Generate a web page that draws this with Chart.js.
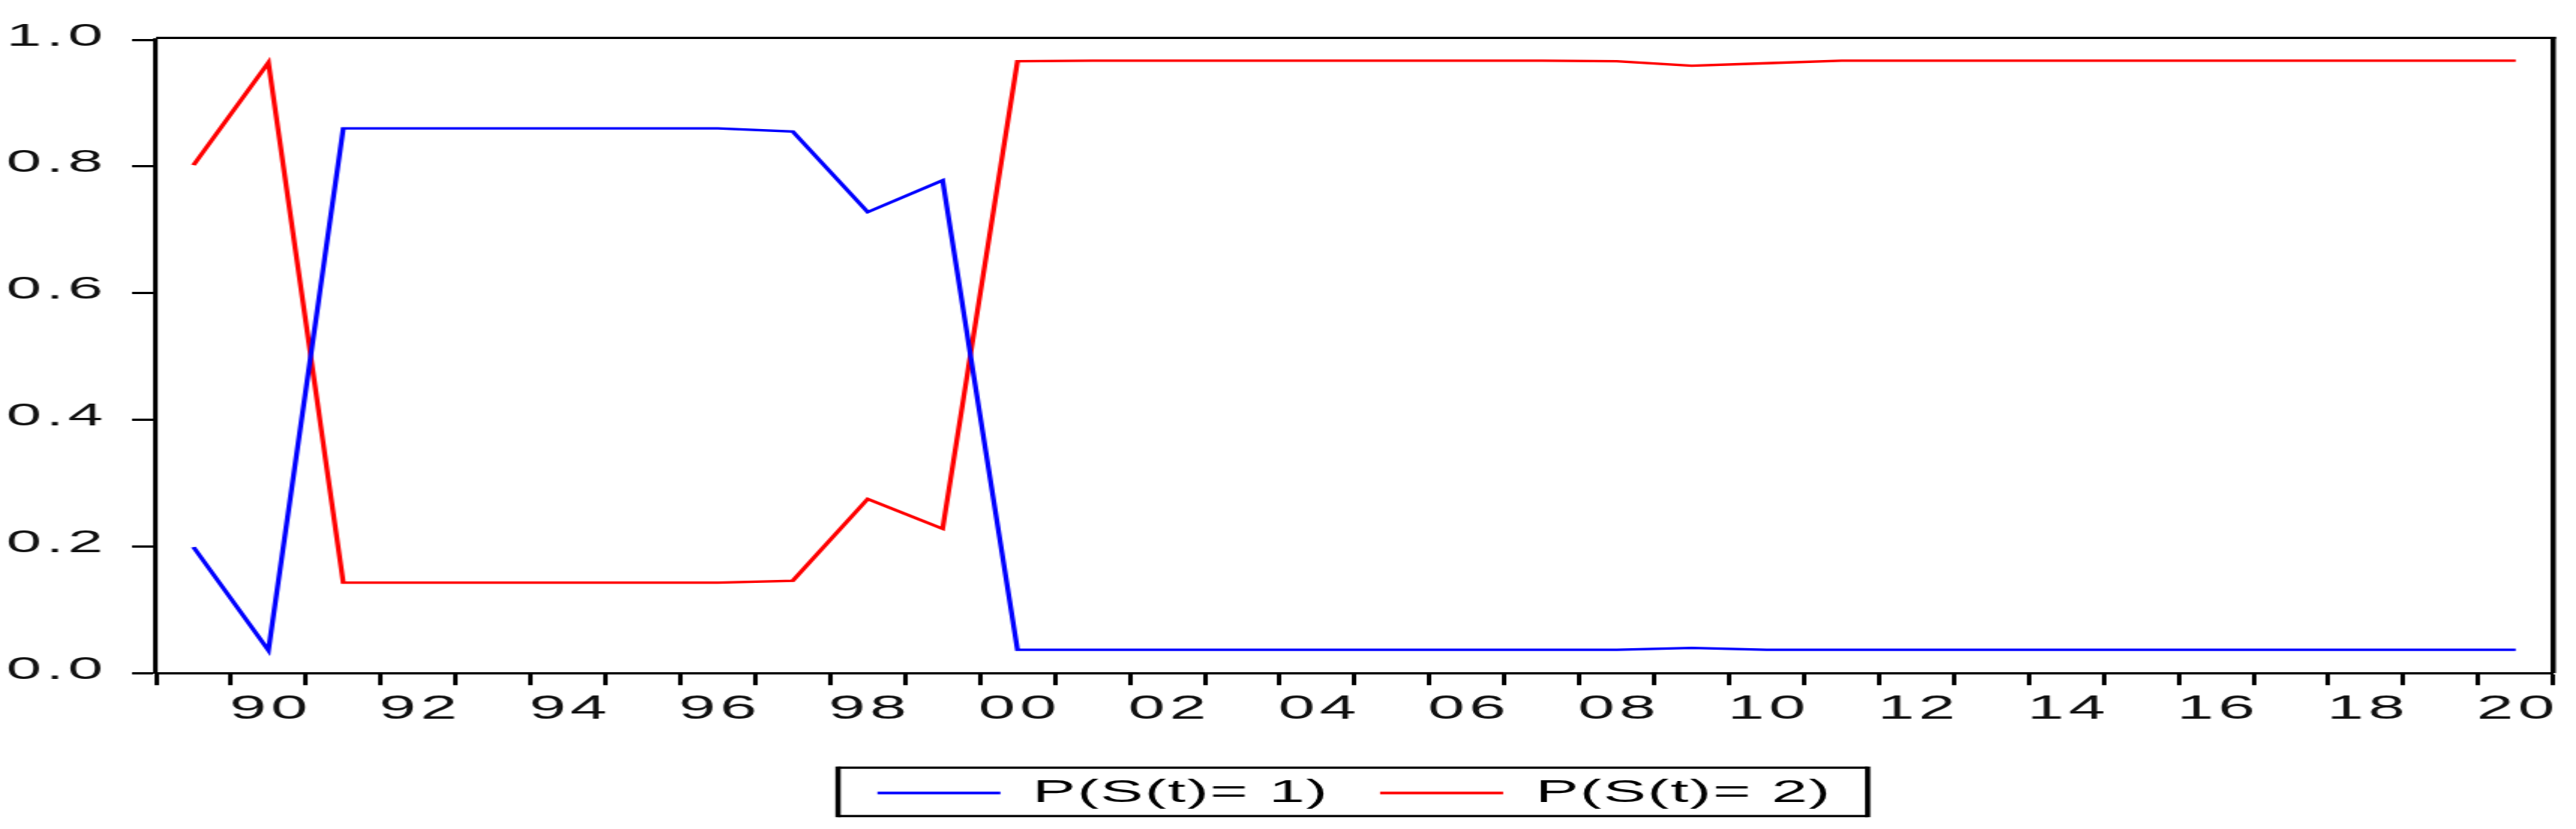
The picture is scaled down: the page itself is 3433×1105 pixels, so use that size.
<!DOCTYPE html>
<html>
<head>
<meta charset="utf-8">
<title>Regime probabilities</title>
<script src="https://cdn.jsdelivr.net/npm/chart.js@4.4.1/dist/chart.umd.min.js"></script>
<style>
  html, body { margin: 0; padding: 0; background: #fff; }
</style>
</head>
<body>
<!-- canvas is drawn at half width and stretched sideways, like the source graph -->
<canvas id="probChart" width="1717" height="1105" style="display:block;width:3433px;height:1105px"></canvas>
<script>
const years = [
  '1989', '1990', '1991', '1992', '1993', '1994', '1995', '1996',
  '1997', '1998', '1999', '2000', '2001', '2002', '2003', '2004',
  '2005', '2006', '2007', '2008', '2009', '2010', '2011', '2012',
  '2013', '2014', '2015', '2016', '2017', '2018', '2019', '2020'
];

const probState1 = [
  0.199, 0.036, 0.860, 0.860, 0.860, 0.860, 0.860, 0.860,
  0.855, 0.728, 0.778, 0.037, 0.037, 0.037, 0.037, 0.037,
  0.037, 0.037, 0.037, 0.037, 0.040, 0.037, 0.037, 0.037,
  0.037, 0.037, 0.037, 0.037, 0.037, 0.037, 0.037, 0.037
];

const probState2 = [
  0.802, 0.964, 0.143, 0.143, 0.143, 0.143, 0.143, 0.143,
  0.146, 0.275, 0.228, 0.966, 0.967, 0.967, 0.967, 0.967,
  0.967, 0.967, 0.967, 0.966, 0.959, 0.963, 0.967, 0.967,
  0.967, 0.967, 0.967, 0.967, 0.967, 0.967, 0.967, 0.967
];

const yTicks = [0, 0.2, 0.4, 0.6, 0.8, 1.0];
const seriesNames = ['P(S(t)= 1)', 'P(S(t)= 2)'];

const FONT = "'Liberation Sans', Arial, sans-serif";
const TICK_SPACING = '3px';
const LEGEND_SPACING = '1px';

// a bit of letter spacing for tick labels, less for the legend
const spacing = {
  id: 'spacing',
  afterInit(chart) {
    const lg = chart.legend;
    ['fit', 'draw'].forEach(m => {
      const orig = lg[m].bind(lg);
      lg[m] = (...args) => {
        chart.ctx.letterSpacing = LEGEND_SPACING;
        const r = orig(...args);
        chart.ctx.letterSpacing = TICK_SPACING;
        return r;
      };
    });
  },
  beforeLayout(chart) { chart.ctx.letterSpacing = TICK_SPACING; },
  beforeDraw(chart) { chart.ctx.letterSpacing = TICK_SPACING; }
};

// top/right edges of the plot box and the box round the legend
const frames = {
  id: 'frames',
  afterDraw(chart) {
    const { ctx, chartArea: a, legend } = chart;
    ctx.save();
    ctx.strokeStyle = '#000';
    ctx.lineWidth = 3;
    ctx.beginPath();
    ctx.moveTo(a.left, a.top - 2.5);
    ctx.lineTo(a.right + 1.75, a.top - 2.5);
    ctx.stroke();
    ctx.lineWidth = 3.5;
    ctx.beginPath();
    ctx.moveTo(a.right, a.top - 4);
    ctx.lineTo(a.right, a.bottom);
    ctx.stroke();

    const hb = legend.legendHitBoxes;
    if (hb && hb.length) {
      const last = hb[hb.length - 1];
      const l = hb[0].left - 26.25;
      const r = last.left + last.width + 23.9;
      const t = hb[0].top - 12.2;
      const b = hb[0].top + hb[0].height + 9.3;
      ctx.lineWidth = 3;
      ctx.beginPath();
      ctx.moveTo(l, t); ctx.lineTo(r, t);
      ctx.moveTo(l, b); ctx.lineTo(r, b);
      ctx.stroke();
      ctx.lineWidth = 3.5;
      ctx.beginPath();
      ctx.moveTo(l, t - 1.5); ctx.lineTo(l, b + 1.5);
      ctx.moveTo(r, t - 1.5); ctx.lineTo(r, b + 1.5);
      ctx.stroke();
    }
    ctx.restore();
  }
};

const ctx = document.getElementById('probChart');

window.probChart = new Chart(ctx, {
  type: 'line',
  data: {
    labels: years,
    datasets: [{
      label: seriesNames[0],
      data: probState1,
      borderColor: '#0000ff',
      backgroundColor: '#0000ff',
      borderWidth: 3.3,
      tension: 0,
      pointRadius: 0,
      pointStyle: 'line',
      fill: false
    }, {
      label: seriesNames[1],
      data: probState2,
      borderColor: '#ff0000',
      backgroundColor: '#ff0000',
      borderWidth: 3.3,
      tension: 0,
      pointRadius: 0,
      pointStyle: 'line',
      fill: false
    }]
  },
  options: {
    responsive: false,
    animation: false,
    events: [],
    layout: {
      padding: { top: 53, right: 15.25, bottom: 16.5, left: 0 }
    },
    plugins: {
      tooltip: { enabled: false },
      legend: {
        position: 'bottom',
        fullSize: false,
        labels: {
          usePointStyle: true,
          pointStyle: 'line',
          pointStyleWidth: 82,
          padding: 34,
          color: '#000',
          font: { family: FONT, size: 43 }
        }
      }
    },
    scales: {
      x: {
        type: 'category',
        offset: true,
        afterFit(scale) { scale.height = 104.2; },
        grid: {
          offset: true,
          drawOnChartArea: false,
          tickLength: 16,
          tickWidth: 3,
          tickColor: '#000'
        },
        border: { color: '#000', width: 3 },
        ticks: {
          autoSkip: false,
          maxRotation: 0,
          minRotation: 0,
          padding: 6,
          labelOffset: 1.5,
          color: '#111',
          font: { family: FONT, size: 44 },
          callback(value) {
            const yr = Number(this.getLabelForValue(value));
            return yr % 2 === 0 ? String(yr).slice(2) : '';
          }
        }
      },
      y: {
        min: 0,
        max: 1,
        afterFit(scale) { scale.width = 104; },
        afterBuildTicks(scale) { scale.ticks = yTicks.map(v => ({ value: v })); },
        grid: {
          drawOnChartArea: false,
          tickLength: 16,
          tickWidth: 3,
          tickColor: '#000'
        },
        border: { color: '#000', width: 3.1 },
        ticks: {
          padding: 16.3,
          labelOffset: -4,
          color: '#111',
          font: { family: FONT, size: 42 },
          callback(value) { return Number(value).toFixed(1); }
        }
      }
    }
  },
  plugins: [spacing, frames]
});
</script>
</body>
</html>
